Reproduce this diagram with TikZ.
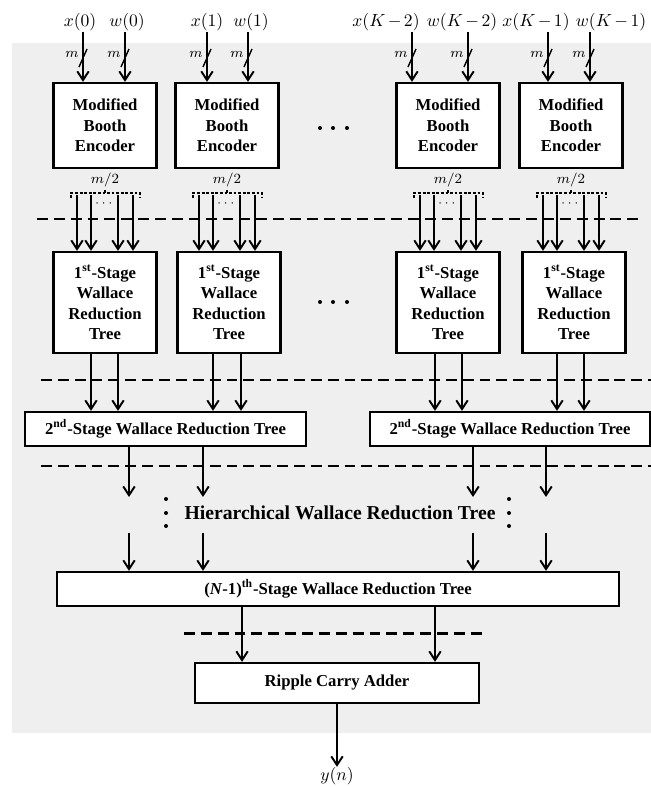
\documentclass[tikz,border=0pt]{standalone}
\usepackage{amsmath}
\usepackage{fontspec}
\setmainfont{Liberation Serif}
\usepackage{xcolor}
\definecolor{panel-gray}{RGB}{239,239,239}
\usetikzlibrary{arrows.meta}
\newcommand{\tightops}{\medmuskip=2.5mu\relax}

\begin{document}
\begin{tikzpicture}[
	x=0.02cm, y=-0.02cm,
	>={Straight Barb[length=5pt,width=6.5pt]},
	blk/.style={draw, line width=1.3pt, fill=white, align=center, inner sep=0pt,
		font=\fontsize{9.5}{11.6}\selectfont\bfseries},
	sig/.style={->, line width=1.1pt},
	stagesep/.style={line width=1.7pt, dash pattern=on 6.2pt off 3.4pt},
	bus/.style={line width=.6pt, dash pattern=on 1.6pt off 1pt},
	lbl/.style={font=\fontsize{10.3}{12}\selectfont, inner sep=0pt},
	small/.style={font=\fontsize{8}{9}\selectfont, inner sep=0pt}
	]
	\useasboundingbox (0,0) rectangle (651,787);
	\fill[panel-gray] (12,43) rectangle (651,733);
	
	% input words
	\node[lbl] (x0) at (80,22) {$x(0)$};
	\node[lbl] (w0) at (127,22) {$w(0)$};
	\node[lbl] (x1) at (207,22) {$x(1)$};
	\node[lbl] (w1) at (251,22) {$w(1)$};
	\node[lbl] (xK2) at (386,22) {$\tightops x(K-2)$};
	\node[lbl] (wK2) at (462,22) {$\tightops w(K-2)$};
	\node[lbl] (xK1) at (536,22) {$\tightops x(K-1)$};
	\node[lbl] (wK1) at (611,22) {$\tightops w(K-1)$};
	
	% booth encoders
	\node[blk, minimum width=2.06cm, minimum height=1.7cm] (E1) at (105,125.5) {Modified\\Booth\\Encoder};
	\node[blk, minimum width=2.06cm, minimum height=1.7cm] (E2) at (227,125.5) {Modified\\Booth\\Encoder};
	\node[blk, minimum width=2.06cm, minimum height=1.7cm] (E3) at (448,125.5) {Modified\\Booth\\Encoder};
	\node[blk, minimum width=2.06cm, minimum height=1.7cm] (E4) at (571,125.5) {Modified\\Booth\\Encoder};
	
	% 1st stage trees
	\node[blk, minimum width=2.06cm, minimum height=2.02cm] (W1) at (105,302.5) {1\textsuperscript{st}-Stage\\Wallace\\Reduction\\Tree};
	\node[blk, minimum width=2.06cm, minimum height=2.02cm] (W2) at (229,302.5) {1\textsuperscript{st}-Stage\\Wallace\\Reduction\\Tree};
	\node[blk, minimum width=2.06cm, minimum height=2.02cm] (W3) at (448,302.5) {1\textsuperscript{st}-Stage\\Wallace\\Reduction\\Tree};
	\node[blk, minimum width=2.06cm, minimum height=2.02cm] (W4) at (574,302.5) {1\textsuperscript{st}-Stage\\Wallace\\Reduction\\Tree};
	
	% 2nd stage, last stage, adder
	\node[blk, minimum width=5.62cm, minimum height=.68cm] (S1) at (165.5,429) {2\textsuperscript{nd}-Stage Wallace Reduction Tree};
	\node[blk, minimum width=5.6cm, minimum height=.68cm] (S2) at (510,429) {2\textsuperscript{nd}-Stage Wallace Reduction Tree};
	\node[font=\fontsize{11.2}{13}\selectfont\bfseries, inner sep=0pt] (H) at (340,513) {Hierarchical Wallace Reduction Tree};
	\node[blk, minimum width=11.24cm, minimum height=.68cm] (N) at (338,589) {(\textit{N}-1)\textsuperscript{th}-Stage Wallace Reduction Tree};
	\node[blk, minimum width=5.68cm, minimum height=.8cm] (R) at (337,683) {Ripple Carry Adder};
	\node[lbl] (y) at (337,776) {$y(n)$};
	
	% inputs with bus width
	\foreach \ix/\e [count=\i] in {83/E1,125/E1,207/E2,248/E2,412/E3,468/E3,548/E4,590/E4}{
		\coordinate (in\i) at (\ix,32);
		\draw[sig] (in\i) -- (in\i |- \e.north);
		\draw[line width=.8pt] (\ix,58) +(-4,9) -- +(4,-9);
		\node[small] (m\i) at (\ix-11,54) {$m$};
	}
	
	% partial products m/2
	\foreach \cx/\e/\w in {105/E1/W1,227/E2/W2,448/E3/W3,571/E4/W4}{
		\node[small] (h-\e) at (\cx,180) {$m/2$};
		\draw[bus] (\cx-34,198) -- (\cx-34,193) -- (\cx+35,193) -- (\cx+35,198);
		\draw[bus] (\cx,193) -- (\cx,189);
		\node[font=\fontsize{7.5}{8}\selectfont, inner sep=0pt] (d-\e) at (\cx,204) {$\cdots$};
		\foreach \o in {-28,-14,13,28}{
			\coordinate (p) at (\cx+\o,195);
			\draw[sig] (p) -- (p |- \w.north);
		}
	}
	\draw[stagesep] (37,219) -- (643,219);
	
	\fill (320,128) circle (2) (333,128) circle (2) (347,128) circle (2);
	\fill (320,302) circle (2) (333,302) circle (2) (347,302) circle (2);
	
	% 1st -> 2nd stage
	\foreach \cx/\s in {91/S1,118/S1,213/S1,241/S1,435/S2,462/S2,557/S2,584/S2}{
		\coordinate (q) at (\cx,353);
		\draw[sig] (q) -- (q |- \s.north);
	}
	\draw[stagesep] (41,380) -- (651,380);
	
	% 2nd stage -> hierarchy -> (N-1)th stage
	\foreach \cx [count=\i] in {129,203,473,546}{
		\coordinate (t\i) at (\cx,497);
		\coordinate (b\i) at (\cx,533);
		\draw[sig] (t\i |- S1.south) -- (t\i);
		\draw[sig] (b\i) -- (b\i |- N.north);
	}
	\draw[stagesep] (41,466) -- (651,466);
	\fill (166,499) circle (2) (166,513) circle (2) (166,526) circle (2);
	\fill (509,499) circle (2) (509,513) circle (2) (509,526) circle (2);
	
	% final adder
	\draw[sig] ([xshift=-1.92cm]N.south) -- ([xshift=-1.92cm]N.south |- R.north);
	\draw[sig] ([xshift=1.94cm]N.south) -- ([xshift=1.94cm]N.south |- R.north);
	\draw[stagesep] (184,633) -- (482,633);
	\draw[sig] (R.south) -- (y.north);
\end{tikzpicture}
\end{document}
